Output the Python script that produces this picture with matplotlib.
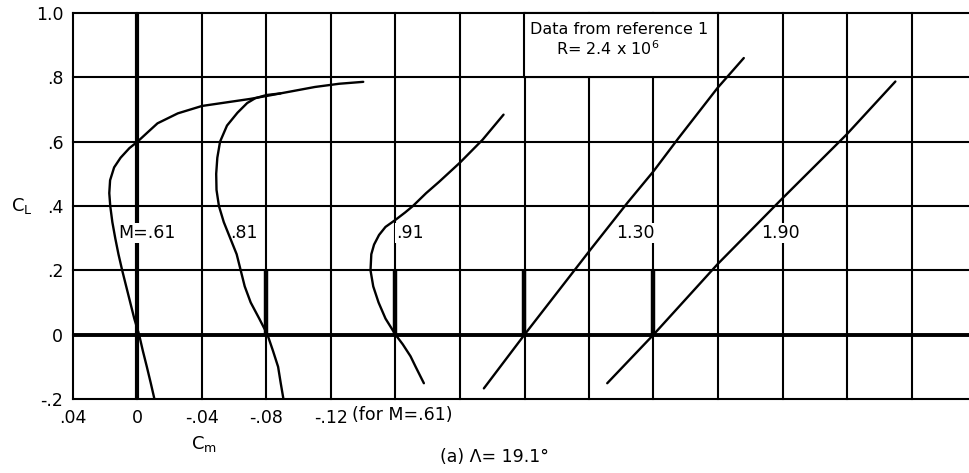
import matplotlib
matplotlib.use("Agg")
import matplotlib.pyplot as plt
from matplotlib.patches import Rectangle

# pitching moment vs lift, each Mach number shifted along the Cm axis
mach_labels = ["M=.61", ".81", ".91", "1.30", "1.90"]
cm_offsets = [0.0, -0.08, -0.16, -0.24, -0.32]

cl_061 = [-0.2, -0.15, -0.1, -0.05, 0.0, 0.05, 0.1, 0.15, 0.2, 0.25, 0.3, 0.35,
          0.4, 0.44, 0.48, 0.52, 0.55, 0.58, 0.6, 0.63, 0.657, 0.688, 0.711,
          0.722, 0.733, 0.742, 0.756, 0.770, 0.780, 0.786]
cm_061 = [-0.0105, -0.0082, -0.0058, -0.0033, -0.001, 0.002, 0.0045, 0.007,
          0.0095, 0.0118, 0.0138, 0.0156, 0.0169, 0.0175, 0.0170, 0.0145, 0.0105,
          0.005, 0.0, -0.0065, -0.0124, -0.025, -0.040,
          -0.055, -0.070, -0.080, -0.095, -0.110, -0.125, -0.140]

cl_081 = [-0.2, -0.15, -0.1, -0.05, 0.0, 0.05, 0.1, 0.15, 0.2, 0.25, 0.3, 0.35,
          0.4, 0.45, 0.5, 0.55, 0.6, 0.65, 0.69, 0.72, 0.735, 0.745, 0.750]
cm_081 = [-0.0105, -0.0088, -0.0072, -0.004, -0.0006, 0.0045, 0.0098, 0.0135,
          0.016, 0.0185, 0.0225, 0.0265, 0.0295, 0.031, 0.0312, 0.0305, 0.0288,
          0.0245, 0.018, 0.012, 0.007, 0.0, -0.0087]

cl_091 = [-0.151, -0.1, -0.067, -0.03, 0.0, 0.05, 0.1, 0.15, 0.2, 0.25, 0.28,
          0.31, 0.335, 0.357, 0.38, 0.40, 0.44, 0.475, 0.535, 0.606, 0.684]
cm_091 = [-0.0176, -0.0125, -0.0093, -0.0045, 0.0, 0.0062, 0.0105, 0.0138,
          0.0155, 0.0150, 0.0133, 0.0102, 0.0062, 0.0, -0.006, -0.0108, -0.019,
          -0.027, -0.040, -0.054, -0.067]

cm_130 = [0.0252, 0.0, -0.041, -0.064, -0.080, -0.0955, -0.1197, -0.136]
cl_130 = [-0.167, 0.0, 0.265, 0.411, 0.508, 0.611, 0.767, 0.86]

cm_190 = [0.0287, 0.0, -0.0397, -0.0798, -0.1197, -0.150]
cl_190 = [-0.151, 0.0, 0.219, 0.423, 0.622, 0.787]

curves = [(cm_061, cl_061), (cm_081, cl_081), (cm_091, cl_091),
          (cm_130, cl_130), (cm_190, cl_190)]

# label anchor (relative Cm, CL) for each curve
label_pos = [(-0.0056, 0.316), (0.014, 0.316), (-0.009, 0.316),
             (-0.069, 0.316), (-0.079, 0.316)]

xtick_vals = [0.04, 0.0, -0.04, -0.08, -0.12]
xtick_text = [".04", "0", "-.04", "-.08", "-.12"]
ytick_vals = [1.0, 0.8, 0.6, 0.4, 0.2, 0.0, -0.2]
ytick_text = ["1.0", ".8", ".6", ".4", ".2", "0", "-.2"]

fig = plt.figure(figsize=(9.7, 4.73), dpi=100)
ax = fig.add_axes([73/970, 74/473, 903/970, 386/473])
ax.set_xlim(0.04, -0.52)
ax.set_ylim(-0.2, 1.0)
for s in ax.spines.values():
    s.set_visible(False)

grid_lw = 1.5
for k in range(15):
    ax.axvline(0.04 - 0.04 * k, color="black", lw=grid_lw, zorder=1, clip_on=False)
for v in ytick_vals:
    ax.axhline(v, color="black", lw=grid_lw, zorder=1, clip_on=False)

# heavy reference lines
ax.axhline(0.0, color="black", lw=2.8, zorder=1.5)
ax.plot([0, 0], [-0.2, 1.0], color="black", lw=3, zorder=1.5, solid_capstyle="butt")
for off in cm_offsets[1:]:
    ax.plot([off, off], [0.0, 0.2], color="black", lw=3.2, zorder=1.5,
            solid_capstyle="butt")

# note box
ax.add_patch(Rectangle((-0.24, 0.8), -0.12, 0.2, facecolor="white",
                       edgecolor="black", lw=grid_lw, zorder=2, clip_on=False))
ax.text(-0.2985, 0.95, "Data from reference 1", ha="center", va="center",
        fontsize=11.5, zorder=3)
ax.text(-0.2918, 0.89, r"R= 2.4 x 10$^6$", ha="center", va="center",
        fontsize=11.5, zorder=3)

for (cm, cl), off, lab, (lx, ly) in zip(curves, cm_offsets, mach_labels, label_pos):
    ax.plot([c + off for c in cm], cl, color="black", lw=1.7, zorder=4,
            solid_capstyle="round", solid_joinstyle="round")
    ax.text(off + lx, ly, lab, ha="center", va="center", fontsize=12.5, zorder=3,
            bbox=dict(facecolor="white", edgecolor="none", pad=1.0))

ax.set_xticks(xtick_vals)
ax.set_xticklabels(xtick_text, fontsize=12.5)
ax.set_yticks(ytick_vals)
ax.set_yticklabels(ytick_text, fontsize=12.5)
ax.tick_params(length=0, pad=7)

ax.text(-0.133, -0.25, "(for M=.61)", ha="left", va="center", fontsize=12.5)
fig.text(204/970, 1 - 444/473, r"C$_\mathregular{m}$", ha="center", va="center",
         fontsize=13)
fig.text(22/970, 1 - 206/473, r"C$_\mathregular{L}$", ha="center", va="center",
         fontsize=13)
fig.text(494/970, 1 - 457/473, "(a) Λ= 19.1°", ha="center", va="center",
         fontsize=12.5)

fig.savefig("out.png", dpi=100)
